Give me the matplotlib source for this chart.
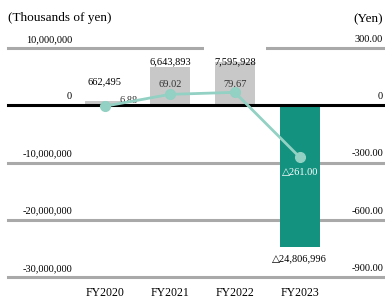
import matplotlib
matplotlib.use("Agg")
import matplotlib.pyplot as plt
import matplotlib.transforms as mtransforms
from matplotlib.patches import Rectangle

plt.rcParams['font.family'] = ['Liberation Serif', 'DejaVu Serif']

# data
years = ["FY2020", "FY2021", "FY2022", "FY2023"]
profit = [662495, 6643893, 7595928, -24806996]          # thousands of yen
eps = [6.88, 69.02, 79.67, -261.00]                      # yen
profit_labels = ["662,495", "6,643,893", "7,595,928", "\u25b324,806,996"]
eps_labels = ["6.88", "69.02", "79.67", "\u25b3261.00"]
left_ticks = [10000000, 0, -10000000, -20000000, -30000000]
left_tick_labels = ["10,000,000", "0", "-10,000,000", "-20,000,000", "-30,000,000"]
right_ticks = [300, 0, -300, -600, -900]
right_tick_labels = ["300.00", "0", "-300.00", "-600.00", "-900.00"]

GRAY = "#c8c8c8"
TEAL = "#13927f"
LINE = "#92d1c3"
GRID = "#a9a9a9"

W, H = 385, 298
fig = plt.figure(figsize=(W / 100, H / 100), dpi=100)
ax = fig.add_axes([8 / W, 1 - 277 / H, 375 / W, 229 / H])
ax.set_xlim(-1.49, 4.28)
ax.set_ylim(-30000000, 10000000)
for s in ax.spines.values():
    s.set_visible(False)
ax.set_xticks([])
ax.set_yticks([])

x = list(range(len(years)))
colors = [GRAY if v >= 0 else TEAL for v in profit]
ax.bar(x, profit, width=0.62, color=colors, zorder=2)

# grid lines + tick labels sitting above the lines
blend = mtransforms.blended_transform_factory(ax.transAxes, ax.transData)
for t, lab in zip(left_ticks, left_tick_labels):
    if t == 0:
        ax.axhline(0, color="black", lw=2.2, zorder=3, clip_on=False)
    else:
        ax.axhline(t, color=GRID, lw=2.2, zorder=1, clip_on=False)
    ax.annotate(lab, (64 / 375, t), xycoords=blend, xytext=(0, 3),
                textcoords="offset points", ha="right", va="bottom", fontsize=7.5)
for t, lab in zip(right_ticks, right_tick_labels):
    yv = t / 300 * 10000000
    ax.annotate(lab, (1.0, yv), xycoords=blend, xytext=(0, 3),
                textcoords="offset points", ha="right", va="bottom", fontsize=7.5)

# white gap in the top grid line above the FY2022 label
ax.add_patch(Rectangle((1.53, 8500000), 0.95, 2300000, fc="white", ec="none",
                       zorder=1.5, clip_on=False))

# bar value labels
bar_offsets = [11, 1, 0, -5]
for xi, v, lab, off in zip(x, profit, profit_labels, bar_offsets):
    if v >= 0 and xi == 2:
        va = "center"
    else:
        va = "bottom" if v >= 0 else "top"
    ax.annotate(lab, (xi, v), xytext=(0, off), textcoords="offset points",
                ha="center", va=va, fontsize=7.5, zorder=5)

# EPS line on a secondary scale (its zero sits a touch below the bar zero)
ax2 = ax.twinx()
ax2.set_ylim(-888, 312)
ax2.set_yticks([])
for s in ax2.spines.values():
    s.set_visible(False)
ax2.plot(x, eps, color=LINE, lw=2, marker="o", markersize=7, zorder=4)

eps_offsets = [(17, 1), (0, 4), (0, 2.5), (0, -8)]
for xi, v, lab, (dx, dy) in zip(x, eps, eps_labels, eps_offsets):
    ax2.annotate(lab, (xi, v), xytext=(dx, dy), textcoords="offset points",
                 ha="center", va="bottom" if dy > 0 else "top", fontsize=7.5,
                 color="white" if v < 0 else "#333333")

# category labels
for xi, yr in zip(x, years):
    ax.annotate(yr, (xi, 0), xycoords=("data", "axes fraction"), xytext=(0, -7.5),
                textcoords="offset points", ha="center", va="top", fontsize=8.5)

fig.text(8 / W, 1 - 18 / H, "(Thousands of yen)", ha="left", va="center", fontsize=9.5)
fig.text(383 / W, 1 - 19 / H, "(Yen)", ha="right", va="center", fontsize=9.5)

fig.savefig("out.png", dpi=100)
